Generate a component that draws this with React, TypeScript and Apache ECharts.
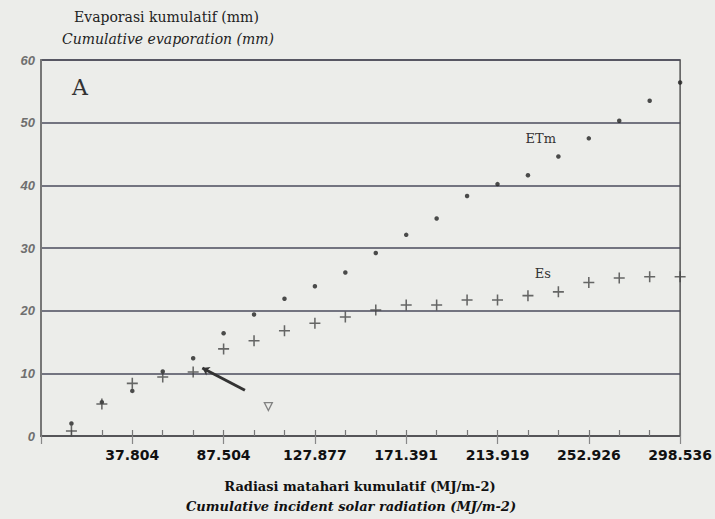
import { useEffect, useRef } from "react";
import * as echarts from "echarts";

// Observation number along the horizontal axis (equal spacing per reading)
const observation = [1, 2, 3, 4, 5, 6, 7, 8, 9, 10, 11, 12, 13, 14, 15, 16, 17, 18, 19, 20, 21];
// Cumulative incident solar radiation, labelled every third reading
const radiationLabels = ["37.804", "87.504", "127.877", "171.391", "213.919", "252.926", "298.536"];
// Cumulative maximum evapotranspiration ETm (mm)
const etm = [2.0, 5.4, 7.2, 10.3, 12.4, 16.4, 19.4, 21.9, 23.9, 26.1, 29.2, 32.1, 34.7, 38.3, 40.2, 41.6, 44.6, 47.5, 50.3, 53.5, 56.4];
// Cumulative soil evaporation Es (mm)
const es = [0.8, 5.1, 8.4, 9.4, 10.2, 13.9, 15.2, 16.8, 18.0, 19.0, 20.1, 20.9, 20.9, 21.7, 21.7, 22.4, 23.0, 24.5, 25.2, 25.4, 25.4];
// Pointer annotation (from, to) and the lone open marker, in axis units
const pointerFrom = [5.3, 10.85];
const pointerTo = [6.7, 7.3];
const openMarker = [7.47, 4.7];
// Series name tags, in axis units
const etmTag = [16.42, 47.4];
const esTag = [16.49, 26.0];

const PLUS =
  "path://M4.3,0h1.4v4.3h4.3v1.4h-4.3v4.3h-1.4v-4.3h-4.3v-1.4h4.3z";

export default function App() {
  const ref = useRef<HTMLDivElement>(null);

  useEffect(() => {
    if (!ref.current) return;
    const chart = echarts.init(ref.current, null, { renderer: "svg" });
    const serif = "'DejaVu Serif', 'Liberation Serif', serif";

    chart.setOption({
      animation: false,
      backgroundColor: "#ecedea",
      grid: {
        left: 41,
        right: 32,
        top: 60,
        bottom: 83,
        show: true,
        borderColor: "#555",
        borderWidth: 1.5,
        backgroundColor: "transparent",
      },
      xAxis: [
        {
          type: "value",
          min: 0,
          max: 21,
          interval: 1,
          position: "bottom",
          axisLine: { show: true, lineStyle: { color: "#555", width: 1.5 } },
          axisTick: { show: true, inside: true, length: 6, lineStyle: { color: "#777", width: 1.2 } },
          axisLabel: { show: false },
          splitLine: { show: false },
        },
        {
          type: "value",
          min: 0,
          max: 21,
          interval: 3,
          position: "bottom",
          offset: 0,
          axisLine: { show: false },
          axisTick: { show: true, inside: false, length: 8, lineStyle: { color: "#888", width: 1.2 } },
          axisLabel: {
            show: true,
            margin: 12,
            color: "#111",
            fontFamily: "'DejaVu Sans', sans-serif",
            fontWeight: "bold",
            fontSize: 14,
            formatter: (v: number) => (v > 0 && v % 3 === 0 ? radiationLabels[v / 3 - 1] : ""),
          },
          splitLine: { show: false },
        },
      ],
      yAxis: {
        type: "value",
        min: 0,
        max: 60,
        interval: 10,
        axisLine: { show: true, lineStyle: { color: "#777", width: 2 } },
        axisTick: { show: false },
        axisLabel: {
          margin: 6,
          color: "#6f6f6f",
          fontFamily: "'Liberation Sans', Arial, sans-serif",
          fontStyle: "italic",
          fontWeight: "bold",
          fontSize: 13,
        },
        splitLine: { show: true, lineStyle: { color: "#4b4b5c", width: 1.5 } },
      },
      graphic: [
        {
          type: "text",
          left: 74,
          top: 10,
          style: { text: "Evaporasi kumulatif (mm)", font: `14px ${serif}`, fill: "#222" },
        },
        {
          type: "text",
          left: 62,
          top: 32,
          style: { text: "Cumulative evaporation (mm)", font: `italic 14px ${serif}`, fill: "#222" },
        },
        {
          type: "text",
          left: 72,
          top: 76,
          style: { text: "A", font: `22px ${serif}`, fill: "#333" },
        },
        {
          type: "text",
          x: 360,
          y: 480,
          style: {
            text: "Radiasi matahari kumulatif (MJ/m-2)",
            font: `bold 13px ${serif}`,
            fill: "#111",
            textAlign: "center",
          },
        },
        {
          type: "text",
          x: 351,
          y: 500,
          style: {
            text: "Cumulative incident solar radiation (MJ/m-2)",
            font: `italic bold 13px ${serif}`,
            fill: "#111",
            textAlign: "center",
          },
        },
      ],
      series: [
        {
          name: "ETm",
          type: "scatter",
          xAxisIndex: 0,
          symbol: "circle",
          symbolSize: 4.5,
          itemStyle: { color: "#222" },
          data: observation.map((x, i) => [x, etm[i]]),
          markPoint: {
            symbol: "circle",
            symbolSize: 0,
            label: {
              show: true,
              position: "inside",
              formatter: "ETm",
              color: "#333",
              fontFamily: serif,
              fontSize: 13,
            },
            data: [{ coord: etmTag }],
          },
          markLine: {
            silent: true,
            symbol: ["arrow", "none"],
            symbolSize: 7,
            label: { show: false },
            lineStyle: { color: "#333", width: 3, type: "solid" },
            data: [[{ coord: pointerFrom }, { coord: pointerTo }]],
          },
        },
        {
          name: "Es",
          type: "scatter",
          xAxisIndex: 0,
          symbol: PLUS,
          symbolSize: 11,
          itemStyle: { color: "#444" },
          data: observation.map((x, i) => [x, es[i]]),
          markPoint: {
            symbol: "circle",
            symbolSize: 0,
            label: {
              show: true,
              position: "inside",
              formatter: "Es",
              color: "#333",
              fontFamily: serif,
              fontSize: 13,
            },
            data: [{ coord: esTag }],
          },
        },
        {
          name: "marker",
          type: "scatter",
          xAxisIndex: 0,
          symbol: "triangle",
          symbolRotate: 180,
          symbolSize: 8,
          itemStyle: { color: "rgba(0,0,0,0)", borderColor: "#666", borderWidth: 1.3 },
          data: [openMarker],
        },
      ],
    });

    return () => chart.dispose();
  }, []);

  return (
    <div
      ref={ref}
      style={{ position: "fixed", left: 0, top: 0, width: 715, height: 519 }}
    />
  );
}
